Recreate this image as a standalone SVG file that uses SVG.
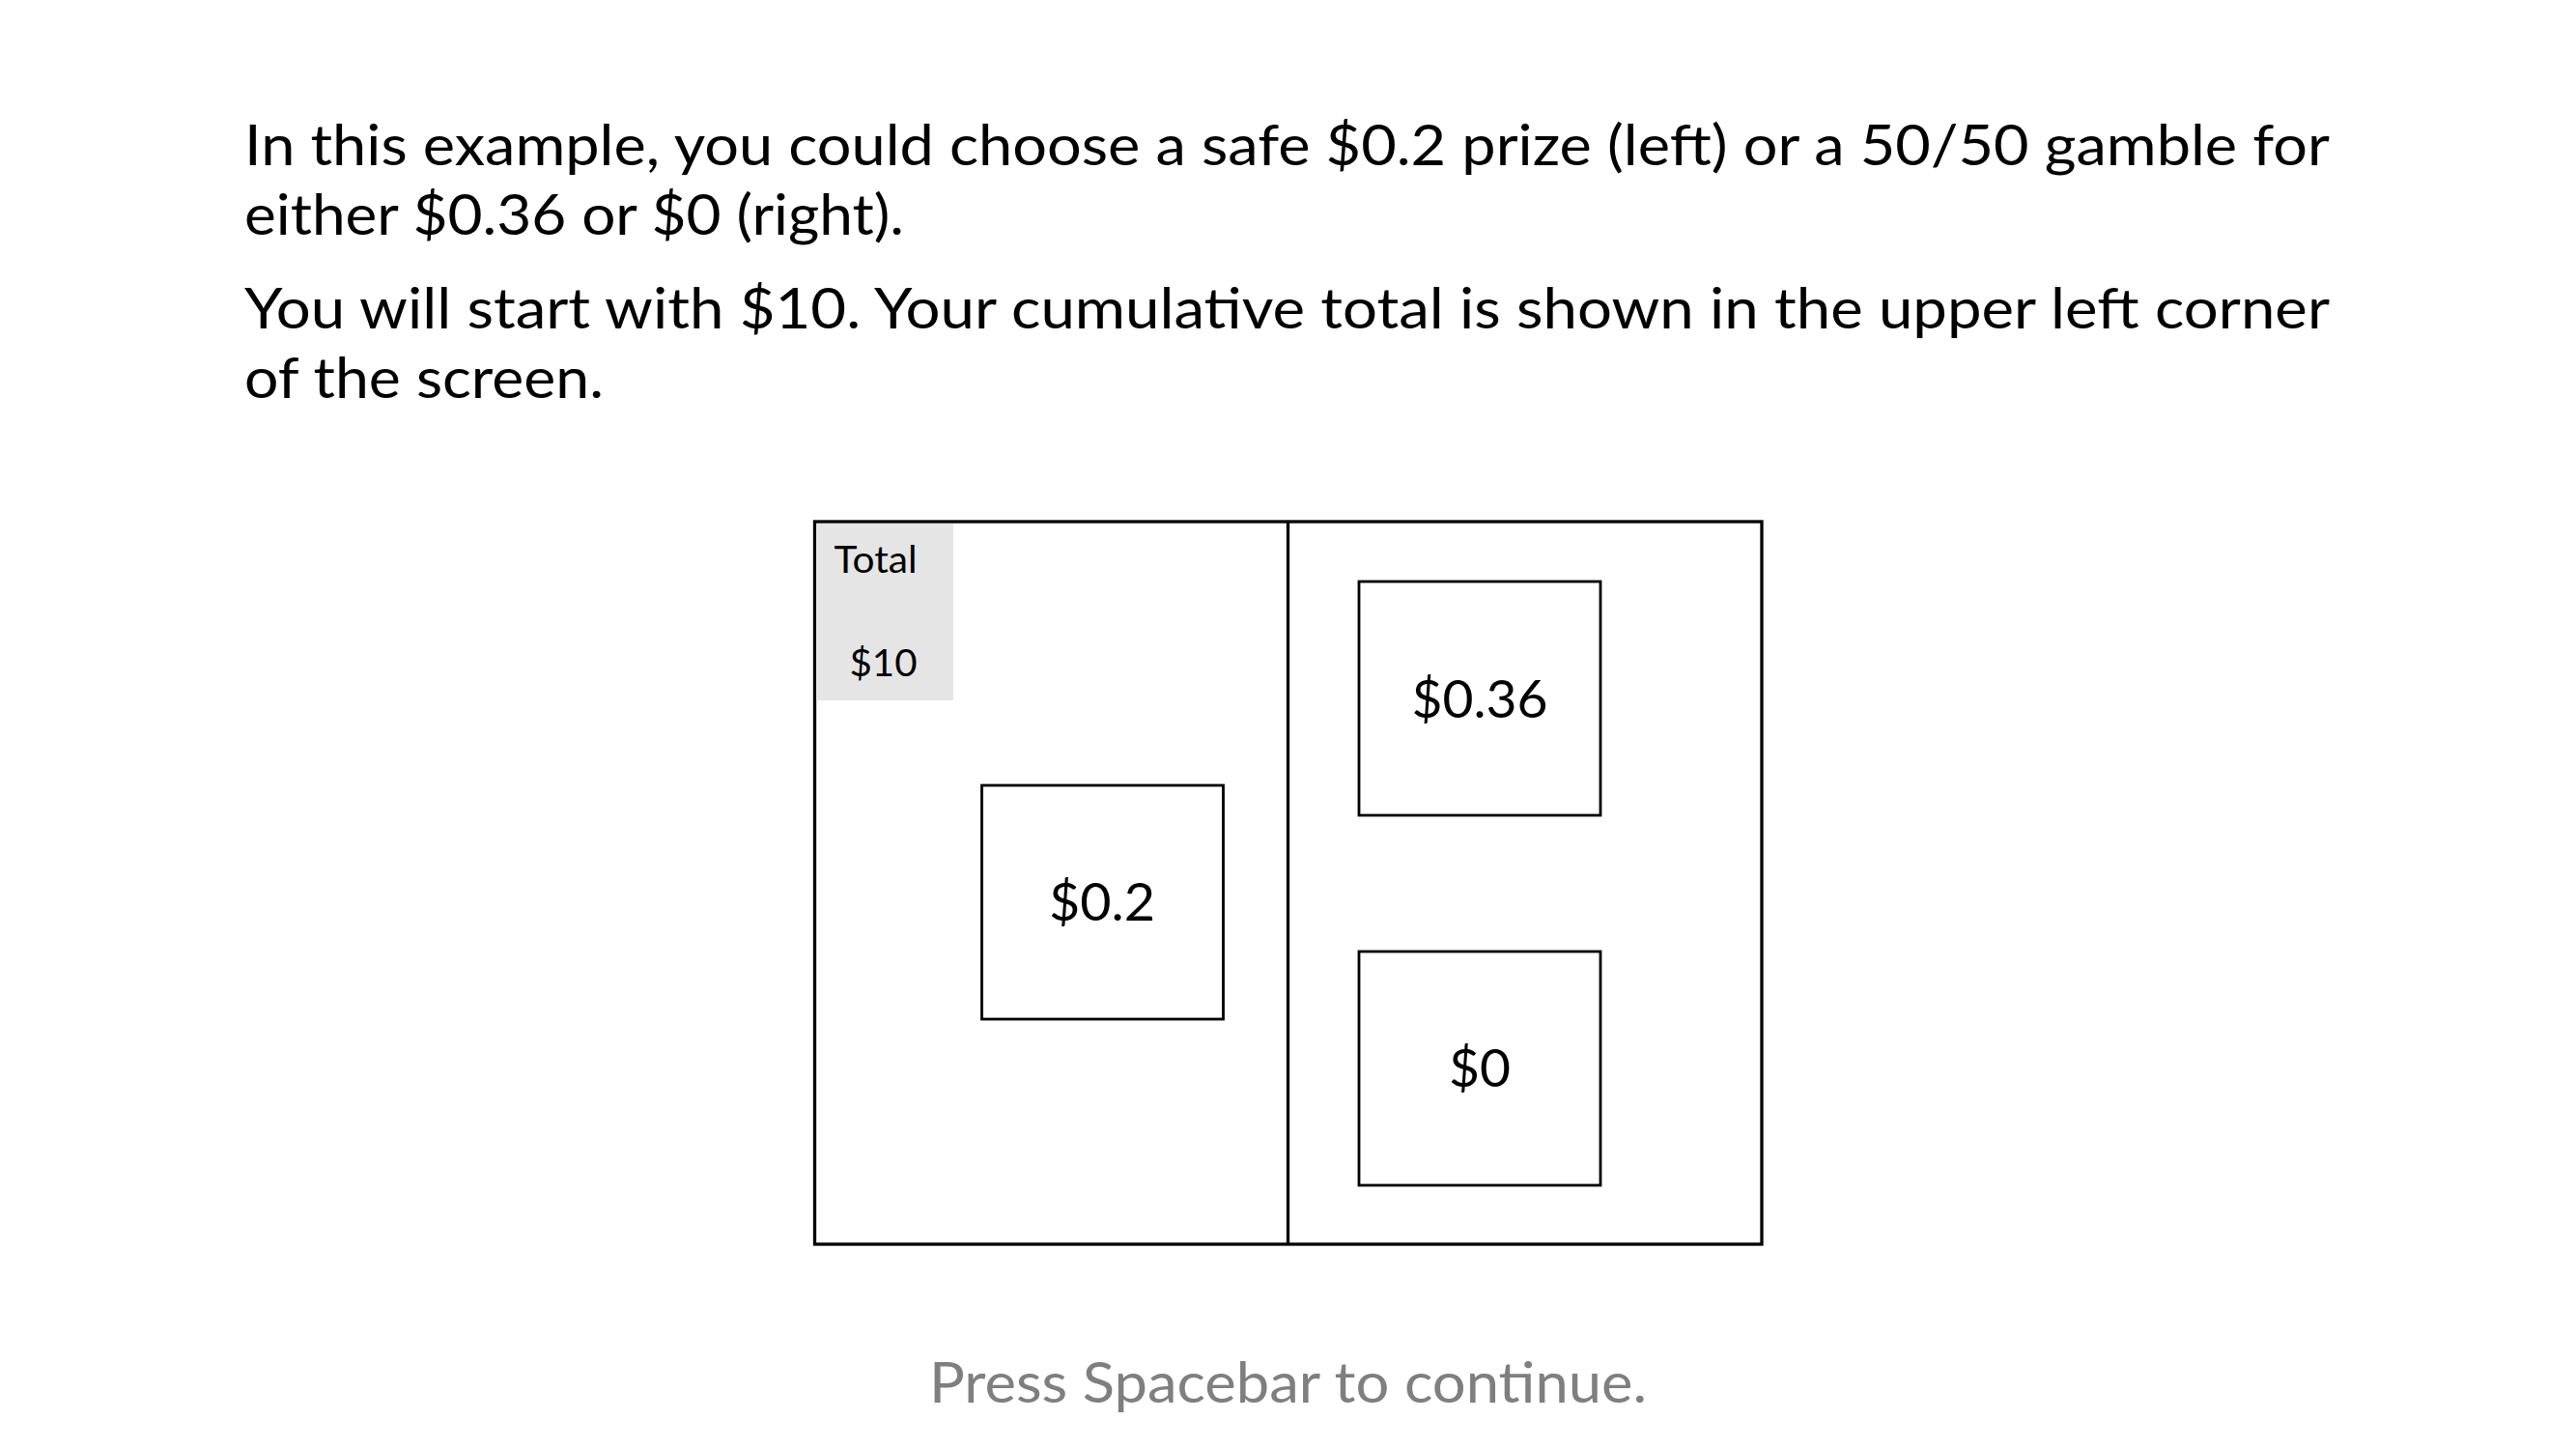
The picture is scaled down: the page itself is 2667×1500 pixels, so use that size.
<svg xmlns="http://www.w3.org/2000/svg" width="2667" height="1500" viewBox="0 0 2667 1500">
  <style>
    .main { font-family: Lato, "Open Sans", "Liberation Sans", sans-serif; font-size: 59px; fill: #000000; }
    .val { font-family: Lato, "Open Sans", "Liberation Sans", sans-serif; font-size: 55px; fill: #000000; text-anchor: middle; }
    .small { font-family: Lato, "Open Sans", "Liberation Sans", sans-serif; font-size: 39px; fill: #000000; text-anchor: middle; }
    .hint { font-family: Lato, "Open Sans", "Liberation Sans", sans-serif; font-size: 59px; fill: #7f7f7f; text-anchor: middle; }
    .box { fill: #ffffff; stroke: #000000; stroke-width: 2.8; }
    .frame { fill: none; stroke: #000000; stroke-width: 3.3; }
  </style>
  <rect x="0" y="0" width="2667" height="1500" fill="#ffffff"/>

  <g id="instructions">
    <text class="main" x="253" y="171" textLength="2159" lengthAdjust="spacingAndGlyphs">In this example, you could choose a safe $0.2 prize (left) or a 50/50 gamble for</text>
    <text class="main" x="253" y="243" textLength="683" lengthAdjust="spacingAndGlyphs">either $0.36 or $0 (right).</text>
    <text class="main" x="253" y="340" textLength="2159" lengthAdjust="spacingAndGlyphs">You will start with $10. Your cumulative total is shown in the upper left corner</text>
    <text class="main" x="253" y="412" textLength="372" lengthAdjust="spacingAndGlyphs">of the screen.</text>
  </g>

  <g id="screen">
    <rect class="frame" x="843.5" y="540" width="980.5" height="748"/>
    <line class="frame" x1="1333.5" y1="540" x2="1333.5" y2="1288"/>
  </g>

  <g id="total">
    <rect x="845" y="542" width="142" height="183" fill="#e5e5e5"/>
    <text class="small" x="906.5" y="593" textLength="86" lengthAdjust="spacingAndGlyphs">Total</text>
    <text class="small" x="914.5" y="700" textLength="70" lengthAdjust="spacingAndGlyphs">$10</text>
  </g>

  <g id="safe-option">
    <rect class="box" x="1016.5" y="813" width="250" height="242"/>
    <text class="val" x="1141" y="953" textLength="110" lengthAdjust="spacingAndGlyphs">$0.2</text>
  </g>

  <g id="gamble-high">
    <rect class="box" x="1407" y="602" width="250" height="242"/>
    <text class="val" x="1532" y="743" textLength="141" lengthAdjust="spacingAndGlyphs">$0.36</text>
  </g>

  <g id="gamble-low">
    <rect class="box" x="1407" y="985" width="250" height="242"/>
    <text class="val" x="1532" y="1125" textLength="64" lengthAdjust="spacingAndGlyphs">$0</text>
  </g>

  <g id="connectors"/>

  <g id="footer">
    <text class="hint" x="1333.5" y="1452" textLength="743" lengthAdjust="spacingAndGlyphs">Press Spacebar to continue.</text>
  </g>
</svg>
